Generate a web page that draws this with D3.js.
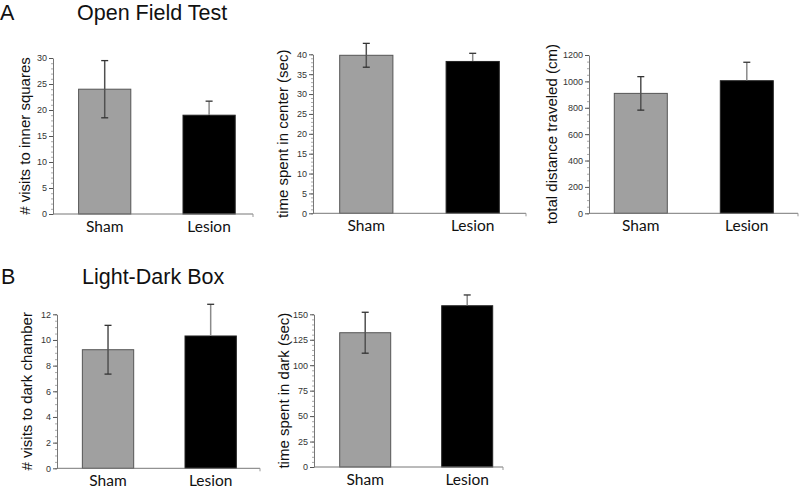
<!DOCTYPE html>
<html>
<head>
<meta charset="utf-8">
<script src="https://cdn.jsdelivr.net/npm/d3@7"></script>
<style>
  html, body { margin: 0; padding: 0; background: #fff; }
  svg { display: block; }
</style>
</head>
<body>
<svg id="chart" width="800" height="491"></svg>
<script>
// ---- data ----
const categories = ["Sham", "Lesion"];

const visitsInnerMean = [24.0, 19.0];
const visitsInnerErr  = [5.5, 2.7];
const visitsInnerTicks = [0, 5, 10, 15, 20, 25, 30];

const centerTimeMean = [39.75, 38.2];
const centerTimeErr  = [3.0, 2.05];
const centerTimeTicks = [0, 5, 10, 15, 20, 25, 30, 35, 40];

const distanceMean = [909, 1005];
const distanceErr  = [127, 140];
const distanceTicks = [0, 200, 400, 600, 800, 1000, 1200];

const darkVisitsMean = [9.24, 10.31];
const darkVisitsErr  = [1.9, 2.47];
const darkVisitsTicks = [0, 2, 4, 6, 8, 10, 12];

const darkTimeMean = [131.9, 158.4];
const darkTimeErr  = [20.1, 10.6];
const darkTimeTicks = [0, 25, 50, 75, 100, 125, 150];

// ---- layout ----
const panels = [
  { mean: visitsInnerMean, err: visitsInnerErr, ticks: visitsInnerTicks, minor: 1, max: 30,
    label: "# visits to inner squares", band: [52.5, 261.3], axisX: [53, 253], yr: [214, 58], labelX: 26 },
  { mean: centerTimeMean, err: centerTimeErr, ticks: centerTimeTicks, minor: 1, max: 40,
    label: "time spent in center (sec)", band: [313.1, 525.9], axisX: [313, 526], yr: [213.3, 54.3], labelX: 284 },
  { mean: distanceMean, err: distanceErr, ticks: distanceTicks, minor: 50, max: 1200,
    label: "total distance traveled (cm)", band: [587.8, 799.8], axisX: [589, 798], yr: [213.3, 55], labelX: 553 },
  { mean: darkVisitsMean, err: darkVisitsErr, ticks: darkVisitsTicks, minor: 0.5, max: 12,
    label: "# visits to dark chamber", band: [56.7, 262], axisX: [57, 260], yr: [468.3, 314.3], labelX: 28 },
  { mean: darkTimeMean, err: darkTimeErr, ticks: darkTimeTicks, minor: 5, max: 150,
    label: "time spent in dark (sec)", band: [314.2, 518.2], axisX: [314, 503], yr: [467, 314.3], labelX: 285 }
];

const fills = ["#a0a0a0", "#000000"];
const strokes = ["#555555", "#222222"];
const errUp = ["#505050", "#8a8a8a"];
const errDown = ["#505050", "#000000"];

const svg = d3.select("#chart");

// section titles
const titleFont = "Liberation Sans, Arial, sans-serif";
svg.append("text").attr("x", 0).attr("y", 19.5).attr("font-family", titleFont).attr("font-size", 21.5).attr("fill", "#111").text("A");
svg.append("text").attr("x", 77).attr("y", 19.5).attr("font-family", titleFont).attr("font-size", 21.5).attr("fill", "#111").text("Open Field Test");
svg.append("text").attr("x", 1).attr("y", 284).attr("font-family", titleFont).attr("font-size", 21.5).attr("fill", "#111").text("B");
svg.append("text").attr("x", 82).attr("y", 284).attr("font-family", titleFont).attr("font-size", 21.5).attr("fill", "#111").text("Light-Dark Box");

panels.forEach(p => {
  const g = svg.append("g");
  const x = d3.scaleBand().domain(categories).range(p.band).paddingInner(0.5).paddingOuter(0.25);
  const y = d3.scaleLinear().domain([0, p.max]).range(p.yr);

  // bars
  g.selectAll("rect.bar").data(categories).enter().append("rect")
    .attr("x", d => x(d))
    .attr("width", x.bandwidth())
    .attr("y", (d, i) => y(p.mean[i]))
    .attr("height", (d, i) => y(0) - y(p.mean[i]))
    .attr("fill", (d, i) => fills[i])
    .attr("stroke", (d, i) => strokes[i])
    .attr("stroke-width", 1);

  // error bars
  categories.forEach((c, i) => {
    const cx = x(c) + x.bandwidth() / 2;
    const mid = y(p.mean[i]);
    const top = y(p.mean[i] + p.err[i]);
    const bot = y(p.mean[i] - p.err[i]);
    g.append("line").attr("x1", cx).attr("x2", cx).attr("y1", top).attr("y2", mid)
      .attr("stroke", errUp[i]).attr("stroke-width", 1.5);
    g.append("line").attr("x1", cx).attr("x2", cx).attr("y1", mid).attr("y2", bot)
      .attr("stroke", errDown[i]).attr("stroke-width", 1.5);
    g.append("line").attr("x1", cx - 3.5).attr("x2", cx + 3.5).attr("y1", top).attr("y2", top)
      .attr("stroke", "#333").attr("stroke-width", 1.3);
    g.append("line").attr("x1", cx - 3.5).attr("x2", cx + 3.5).attr("y1", bot).attr("y2", bot)
      .attr("stroke", i === 0 ? "#333" : "#000").attr("stroke-width", 1.3);
  });

  // y axis
  const ax = p.axisX[0];
  const minorTicks = d3.range(0, p.max + p.minor / 2, p.minor);
  const yMinor = d3.axisLeft(y).tickValues(minorTicks).tickSize(2).tickFormat("");
  const gm = g.append("g").attr("transform", `translate(${ax},0)`).call(yMinor);
  gm.select(".domain").remove();
  gm.selectAll("line").attr("stroke", "#aaa");

  const yAxis = d3.axisLeft(y).tickValues(p.ticks).tickSize(4).tickSizeOuter(0).tickPadding(2)
    .tickFormat(d3.format("d"));
  const ga = g.append("g").attr("transform", `translate(${ax},0)`).call(yAxis);
  ga.select(".domain").attr("stroke", "#777");
  ga.selectAll(".tick line").attr("stroke", "#555");
  ga.selectAll(".tick text").attr("font-family", "Liberation Sans, Arial, sans-serif")
    .attr("font-size", 9).attr("fill", "#333");

  // x axis line
  g.append("line").attr("x1", ax).attr("x2", p.axisX[1]).attr("y1", y(0)).attr("y2", y(0))
    .attr("stroke", "#777").attr("stroke-width", 1);
  g.append("line").attr("x1", p.axisX[1]).attr("x2", p.axisX[1]).attr("y1", y(0)).attr("y2", y(0) + 3)
    .attr("stroke", "#999").attr("stroke-width", 1);

  // category labels
  g.selectAll("text.cat").data(categories).enter().append("text")
    .attr("x", d => x(d) + x.bandwidth() / 2)
    .attr("y", y(0) + 18)
    .attr("text-anchor", "middle")
    .attr("font-family", "Lato, sans-serif")
    .attr("font-size", 15.5)
    .attr("fill", "#111")
    .text(d => d);

  // y label
  const my = (p.yr[0] + p.yr[1]) / 2;
  g.append("text")
    .attr("transform", `translate(${p.labelX},${my}) rotate(-90)`)
    .attr("text-anchor", "middle")
    .attr("dominant-baseline", "middle")
    .attr("font-family", "Liberation Sans, Arial, sans-serif")
    .attr("font-size", 15)
    .attr("fill", "#111")
    .text(p.label);
});
</script>
</body>
</html>
